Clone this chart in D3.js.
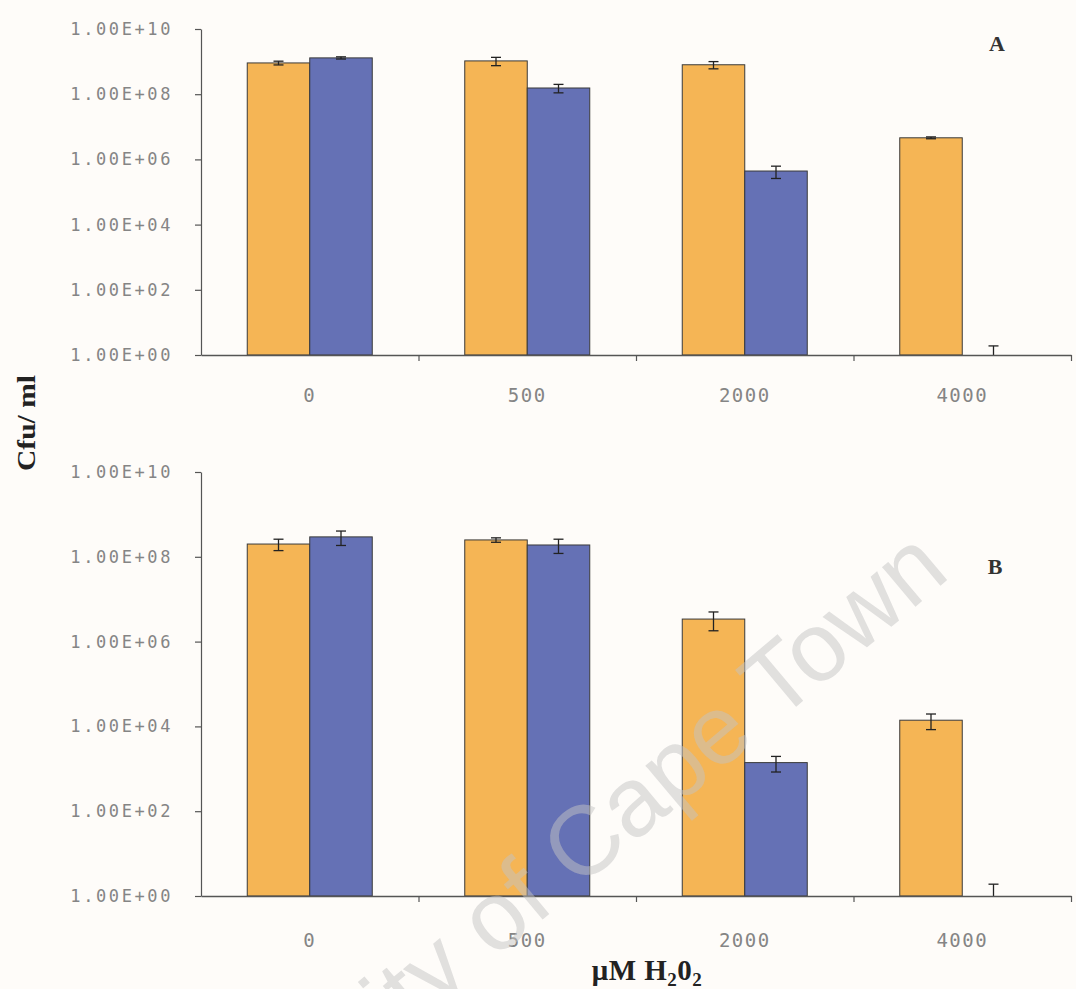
<!DOCTYPE html>
<html>
<head>
<meta charset="utf-8">
<script src="https://cdn.jsdelivr.net/npm/d3@7/dist/d3.min.js"></script>
<style>
  html, body { margin: 0; padding: 0; background: #fefcf9; }
  svg { display: block; }
</style>
</head>
<body>
<svg id="chart" width="1076" height="989"></svg>
<script>
// ---------- data ----------
const categories = ["0", "500", "2000", "4000"];
const yTickValues = [1, 1e2, 1e4, 1e6, 1e8, 1e10];
const panelLabels = ["A", "B"];

// Panel A (Cfu/ml)
const panelA_orange = [9.1e8, 1.05e9, 8.0e8, 4.6e6];
const panelA_orangeErr = [1.2e8, 3.0e8, 2.0e8, 3.0e5];
const panelA_blue = [1.3e9, 1.55e8, 4.4e5, 1];
const panelA_blueErr = [1.0e8, 4.5e7, 1.8e5, 0.9];

// Panel B (Cfu/ml)
const panelB_orange = [2.0e8, 2.5e8, 3.4e6, 1.4e4];
const panelB_orangeErr = [6.0e7, 3.0e7, 1.6e6, 5.6e3];
const panelB_blue = [2.95e8, 1.9e8, 1.4e3, 1];
const panelB_blueErr = [1.1e8, 7.0e7, 5.6e2, 0.9];

const seriesColors = ["#f5b555", "#6571b5"];

// ---------- drawing ----------
const svg = d3.select("#chart");
const X0 = 201, X1 = 1071;

const panels = [
  { top: 29, bottom: 355, orange: panelA_orange, orangeErr: panelA_orangeErr,
    blue: panelA_blue, blueErr: panelA_blueErr, label: panelLabels[0], labelPos: [997, 51], catY: 402 },
  { top: 472, bottom: 896, orange: panelB_orange, orangeErr: panelB_orangeErr,
    blue: panelB_blue, blueErr: panelB_blueErr, label: panelLabels[1], labelPos: [995, 574], catY: 947 }
];

const fmt = v => {
  const e = Math.round(Math.log10(v));
  return "1.00E+" + (e < 10 ? "0" + e : "" + e);
};

const x0 = d3.scaleBand().domain(categories).range([X0, X1]).padding(0);
const groupW = 125;
const x1 = d3.scaleBand().domain([0, 1]).range([0, groupW]).padding(0);
const boundary = d3.scaleLinear().domain([0, categories.length]).range([X0, X1]);

panels.forEach(p => {
  const y = d3.scaleLog().domain([1, 1e10]).range([p.bottom, p.top]).clamp(true);
  const g = svg.append("g");

  // y axis
  const yAxis = d3.axisLeft(y).tickValues(yTickValues).tickFormat(fmt).tickSize(6).tickSizeOuter(0).tickPadding(22);
  const ya = g.append("g").attr("transform", `translate(${X0},0)`).call(yAxis);
  ya.select(".domain").attr("stroke", "#555").attr("stroke-width", 1.2);
  ya.selectAll(".tick line").attr("stroke", "#555").attr("stroke-width", 1.2);
  ya.selectAll(".tick text")
    .attr("font-family", "DejaVu Sans Mono, monospace")
    .attr("font-size", 17)
    .attr("letter-spacing", 2.6)
    .attr("fill", "#858585");

  // bars
  const series = [
    { vals: p.orange, errs: p.orangeErr, color: seriesColors[0], idx: 0 },
    { vals: p.blue, errs: p.blueErr, color: seriesColors[1], idx: 1 }
  ];
  series.forEach(s => {
    categories.forEach((c, i) => {
      const gx = x0(c) + (x0.bandwidth() - groupW) / 2 + x1(s.idx);
      const v = s.vals[i];
      const yt = y(v);
      if (p.bottom - yt > 0.5) {
        g.append("rect")
          .attr("x", gx).attr("y", yt)
          .attr("width", x1.bandwidth()).attr("height", p.bottom - yt)
          .attr("fill", s.color)
          .attr("stroke", "#3a3a3a").attr("stroke-width", 1);
      }
      // error bar
      const cx = gx + x1.bandwidth() / 2;
      const hi = y(v + s.errs[i]);
      const lo = y(Math.max(1, v - s.errs[i]));
      g.append("line").attr("x1", cx).attr("x2", cx).attr("y1", hi).attr("y2", lo)
        .attr("stroke", "#222").attr("stroke-width", 1.3);
      g.append("line").attr("x1", cx - 5).attr("x2", cx + 5).attr("y1", hi).attr("y2", hi)
        .attr("stroke", "#222").attr("stroke-width", 1.3);
      if (v - s.errs[i] >= 1) {
        g.append("line").attr("x1", cx - 5).attr("x2", cx + 5).attr("y1", lo).attr("y2", lo)
          .attr("stroke", "#222").attr("stroke-width", 1.3);
      }
    });
  });

  // x axis: boundary ticks
  const xb = d3.axisBottom(boundary).tickValues(d3.range(1, categories.length + 1)).tickFormat("").tickSize(6).tickSizeOuter(0);
  const xa = g.append("g").attr("transform", `translate(0,${p.bottom})`).call(xb);
  xa.select(".domain").attr("stroke", "#555").attr("stroke-width", 1.4);
  xa.selectAll(".tick line").attr("stroke", "#555").attr("stroke-width", 1.2);

  // category labels
  const xl = d3.axisBottom(x0).tickSize(0).tickPadding(0);
  const xla = g.append("g").attr("transform", `translate(0,${p.catY})`).call(xl);
  xla.select(".domain").remove();
  xla.selectAll(".tick text")
    .attr("y", 0).attr("dy", 0)
    .attr("font-family", "DejaVu Sans Mono, monospace")
    .attr("font-size", 19)
    .attr("letter-spacing", 1.5)
    .attr("fill", "#858585");

  // panel label
  g.append("text")
    .attr("x", p.labelPos[0]).attr("y", p.labelPos[1])
    .attr("text-anchor", "middle")
    .attr("font-family", "Liberation Serif, Times New Roman, serif")
    .attr("font-weight", "bold")
    .attr("font-size", 22)
    .attr("fill", "#333")
    .text(p.label);
});

// y axis title
svg.append("text")
  .attr("transform", "translate(35,423) rotate(-90)")
  .attr("text-anchor", "middle")
  .attr("font-family", "Liberation Serif, Times New Roman, serif")
  .attr("font-weight", "bold")
  .attr("font-size", 26)
  .attr("textLength", 96)
  .attr("lengthAdjust", "spacingAndGlyphs")
  .attr("fill", "#222")
  .text("Cfu/ ml");

// x axis title
const xt = svg.append("text")
  .attr("x", 647).attr("y", 980)
  .attr("text-anchor", "middle")
  .attr("font-family", "Liberation Serif, Times New Roman, serif")
  .attr("font-weight", "bold")
  .attr("font-size", 29)
  .attr("letter-spacing", 0.5)
  .attr("fill", "#222");
xt.append("tspan").text("μM H");
xt.append("tspan").attr("font-size", 19).attr("dy", 6).text("2");
xt.append("tspan").attr("dy", -6).text("0");
xt.append("tspan").attr("font-size", 19).attr("dy", 6).text("2");

// watermark (semi-transparent, on top)
svg.append("text")
  .attr("transform", "translate(952,576) rotate(-40)")
  .attr("text-anchor", "end")
  .attr("font-family", "Liberation Sans, Arial, sans-serif")
  .attr("font-size", 98)
  .attr("fill", "#c4c4c4")
  .attr("fill-opacity", 0.5)
  .text("University of Cape Town");
</script>
</body>
</html>
